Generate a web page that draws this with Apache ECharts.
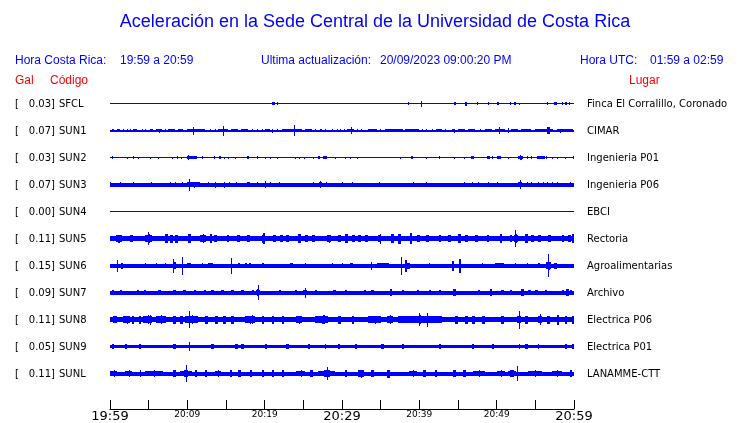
<!DOCTYPE html>
<html>
<head>
<meta charset="utf-8">
<script src="https://cdn.jsdelivr.net/npm/echarts@6/dist/echarts.min.js"></script>
<style>html,body{margin:0;padding:0;background:#fff;}#chart{width:740px;height:423px;}</style>
</head>
<body>
<div id="chart"></div>
<script>
// ---------------- DATA ----------------
const codes = ['SFCL','SUN1','SUN2','SUN3','SUN4','SUN5','SUN6','SUN7','SUN8','SUN9','SUNL'];
const places = ['Finca El Corralillo, Coronado','CIMAR','Ingenieria P01','Ingenieria P06','EBCI','Rectoria','Agroalimentarias','Archivo','Electrica P06','Electrica P01','LANAMME-CTT'];
const galValues = ['0.03','0.07','0.03','0.07','0.00','0.11','0.15','0.09','0.11','0.05','0.11'];
// time axis: minutes after 19:59 (0..60)
const tickLabels = ['19:59','20:09','20:19','20:29','20:39','20:49','20:59'];
const bigTickLabels = ['19:59','20:29','20:59'];
// background (noise) half-amplitude of each trace
const baseAmp = [0.5, 1.0, 0.5, 2.0, 0.5, 2.9, 2.0, 2.0, 2.9, 1.6, 2.0];
// default burst duration (minutes)
const defaultDur = [0.15, 0.15, 0.12, 0.12, 0.15, 0.35, 0.15, 0.3, 0.35, 0.3, 0.3];
// bursts: [minute, half-amplitude, duration(optional)]
const burstsSFCL = [[21.0,1.5,0.3],[21.6,1.2],[38.5,1.2],[40.2,3],[44.5,1.5,0.2],[45.9,2,0.3],[47.5,1.2],[48.9,1.5],[50.0,1.5,0.25],[51.7,1.5,0.2],[52.3,1.2],[52.9,1],[56.5,1.5],[57.4,1.5,0.35],[58.4,1.2],[58.9,1.2],[59.3,1.2]];
const burstsSUN1 = [[0.2,1.6,0.3],[0.86,1.6,0.45],[1.7,1.6],[2.2,1.6],[2.6,1.6],[3.0,1.6,0.45],[4.1,1.6],[4.5,1.6,0.2],[5.2,1.6,0.4],[6.0,1.6,0.7],[6.4,2,0.12],[7.1,1.6],[7.5,1.6,0.9],[8.8,1.6,0.7],[9.9,1.8,2.4],[10.7,4,0.15],[12.9,1.6],[13.6,1.6],[14.0,1.8,1.3],[14.65,5,0.15],[15.7,1.6,0.9],[17.0,1.6,0.9],[18.3,1.6],[19.0,1.6],[19.6,1.6],[20.0,1.6,0.7],[21.0,2,0.12],[21.55,1.6],[22.2,1.8,2.6],[23.8,5.5,0.15],[25.2,1.6,0.9],[26.5,1.6],[27.2,1.6],[27.8,1.6],[28.7,1.6],[29.3,1.6],[29.7,1.6],[30.2,1.6],[30.6,1.6,0.9],[31.2,3.3,0.12],[31.9,1.6],[32.5,1.6],[33.4,1.6,1.1],[34.9,1.6],[35.6,1.6,2.3],[38.1,1.6,1.8],[40.3,1.6],[40.9,1.6],[41.6,1.6],[42.2,1.6,0.7],[43.3,1.6],[44.2,1.6,0.4],[44.5,2,0.12],[45.0,1.6,0.9],[46.3,1.6,0.9],[47.8,1.6],[48.5,1.6,0.85],[49.8,1.8,1.3],[50.3,3.5,0.12],[51.5,2.5,0.1],[51.9,1.6,0.9],[53.2,1.6,1.3],[55.0,1.8,2.3],[56.5,3.5,0.35],[57.8,1.8,2.1],[58.2,2,0.12]];
const burstsSUN2 = [[0.2,1.2],[2.2,1],[3.0,1.2],[3.6,1],[5.2,1],[6.25,1],[8.0,1],[8.6,1.2],[9.2,1],[9.9,1.8,1.4],[10.1,2.7],[11.85,1.2],[13.5,1.2],[14.1,1.2,0.3],[14.8,1],[15.3,1],[16.2,1],[17.7,1.5,0.3],[19.0,1.2],[20.0,1],[20.7,1],[21.55,1],[23.9,1],[24.4,1],[25.1,1],[26.3,1],[26.9,1.5,0.3],[27.5,1.5,0.6],[29.1,1],[30.4,1],[31.0,1],[32.0,1],[37.5,1],[38.9,1.2,0.3],[40.9,1],[42.5,1.2],[44.5,1],[45.8,1],[46.7,1.5,0.4],[48.7,1.5,0.4],[49.4,1.2],[50.0,1.5,0.6],[51.5,1],[52.7,2,0.7],[53.0,2.7],[53.9,1.2],[54.5,1.2],[55.2,1.5,1.0],[56.4,1.2],[57.1,1],[57.8,1],[58.8,1],[59.9,1.2]];
const burstsSUN3 = [[0,2.8],[1.3,2.6],[3.0,2.8],[5.3,2.8],[7.8,2.6],[8.4,2.6],[9.3,2.8],[9.9,3,1.7],[10.26,6],[12.7,2.6],[13.6,3],[14.8,3],[15.4,2.6],[16.25,2.6],[17.7,2.8,0.4],[19.0,2.6],[20.1,3.5],[20.7,2.8],[21.8,2.6],[26.3,2.6],[27.0,2.8,0.4],[27.2,3.5],[27.9,2.8],[30.0,2.6],[31.25,2.6],[34.8,2.6],[39.2,2.6],[40.9,2.6],[45.8,2.6],[46.8,2.6],[47.6,2.6],[48.9,2.6],[50.1,2.6],[52.8,3,0.5],[53.0,4.5],[53.9,2.8],[54.5,2.8],[55.4,2.8],[56.0,2.8],[56.5,2.8],[57.1,2.8],[57.8,2.8],[59.5,2.6]];
const burstsSUN4 = [];
const burstsSUN5 = [[0.2,3.6,1.8],[1.0,4],[2.6,3.6],[4.5,4.2,0.9],[4.95,6.7,0.12],[7.1,4.5],[7.8,4],[8.4,4],[10.1,4.5],[11.6,4.2,0.8],[12.9,4.5],[13.5,3.8],[15.1,3.8],[16.4,3.6],[17.7,3.8],[19.6,4,0.5],[19.8,5.5,0.2],[21.1,3.8],[22.0,3.6],[22.8,3.8],[24.35,4.2],[25.2,3.6],[26.1,3.8],[28.0,4,0.6],[29.5,3.8],[30.4,4.2],[31.3,3.6],[32.1,3.8],[33.0,3.8],[34.4,3.8,0.6],[34.9,5,0.12],[36.4,4.2],[37.3,5,0.3],[38.8,5.5,0.3],[39.7,3.8],[40.9,3.8],[42.5,3.8],[43.75,3.8],[45.0,4.2],[45.9,3.8],[47.2,3.8],[48.7,3.8],[50.4,4.2],[51.6,3.8,0.5],[52.2,4.5,0.6],[52.4,8.5,0.12],[53.7,4.5],[54.5,3.8],[55.4,3.8],[56.7,3.8],[58.4,3.8],[59.2,3.8],[59.7,4.5,0.3]];
const burstsSUN6 = [[0.86,6,0.1],[1.4,3,0.25],[4.5,2.8],[5.9,2.8],[7.1,2.8],[8.1,7,0.12],[8.2,3.5,0.3],[9.35,9,0.1],[9.9,2.8,0.6],[11.85,2.8],[12.7,2.8,0.6],[15.6,8,0.1],[16.6,2.8],[17.4,2.8,0.3],[18.0,2.8,0.2],[19.6,2.8,0.3],[23.3,2.8,0.3],[25.2,2.8],[28.7,2.8],[30.0,2.8],[31.0,2.8,0.4],[33.7,4,0.1],[34.5,2.8,1.6],[37.6,9,0.1],[38.2,6,0.15],[38.4,3,0.4],[41.2,2.8],[44.2,5,0.25],[45.1,7,0.3],[48.1,2.8],[49.8,2.8,1.2],[52.4,2.8],[53.9,2.8],[55.4,2.8],[56.4,4,0.6],[56.6,11.5,0.15],[57.4,3,0.4]];
const burstsSUN7 = [[0.2,2.9],[1.3,2.9],[3.45,2.9],[4.4,2.9],[6.25,2.9],[8.2,2.9],[9.5,2.9],[10.8,2.9],[12.1,2.9],[13.1,2.9],[14.4,2.9],[15.7,2.9],[17.0,2.9],[18.3,2.9],[18.9,3.5,0.5],[19.1,7.5,0.12],[21.8,2.9],[23.9,2.9],[25.0,3.2,0.5],[25.2,5,0.12],[26.5,2.9],[28.9,2.9],[30.4,2.9],[32.8,2.9],[33.8,2.9],[36.2,3.5],[37.7,2.9],[39.7,2.9],[41.2,2.9],[42.5,2.9],[44.4,3.5],[47.6,2.9],[49.1,3.2],[50.6,2.9],[51.7,2.9],[53.2,3.2],[54.1,2.9],[55.0,2.9],[56.25,2.9],[58.4,2.9],[59.0,3.2],[59.5,2.9]];
const burstsSUN8 = [[0,3.8,1.1],[1.7,4,0.9],[2.8,4],[3.7,4],[4.3,4.2,1.1],[5.2,5,0.15],[6.0,4.2,1.3],[8.2,4],[9.05,4],[9.7,4.2,1.7],[10.2,8.7,0.12],[12.3,4],[13.6,4],[14.65,4],[15.7,4],[17.5,4,1.25],[18.3,4.5,0.15],[19.6,4],[20.9,4],[22.2,4],[24.1,4,0.7],[26.5,4,1.7],[27.6,4.5,0.15],[29.5,4],[31.25,4],[33.4,4,1.7],[35.8,4,0.8],[36.2,4.5,0.15],[37.3,4.2,5.6],[40.0,6.5,0.15],[40.95,7,0.15],[44.6,4],[45.9,4],[46.8,4],[48.1,4],[50.6,4],[52.6,4.2,0.6],[52.9,9,0.12],[53.7,4],[55.4,4.2,0.5],[55.6,5.5,0.12],[56.5,4],[57.85,5,0.15],[58.8,4],[59.7,4,0.3]];
const burstsSUN9 = [[0.2,2.3],[1.9,2.3],[3.7,2.3],[8.2,2.3],[10.26,4.3,0.1],[13.1,2.3],[16.2,2.3],[17.0,2.3],[20.0,2.3],[22.8,2.3],[25.6,2.3],[27.8,2.6,0.1],[29.5,2.3],[31.7,2.3],[35.1,2.3],[37.7,2.3],[42.5,2.3],[46.8,2.3],[49.35,2.3],[52.9,2.6,0.1],[53.7,2.3],[55.4,2.4,0.1],[58.8,2.3],[59.7,2.3]];
const burstsSUNL = [[0,3.2,0.9],[1.9,3.2,0.9],[3.9,3.5,0.1],[4.5,3.2,2.4],[8.2,3.2],[9.05,3.5,1.55],[9.8,8.8,0.12],[11.0,3.2],[12.3,3.2],[13.6,3.2,0.8],[15.5,3.2],[16.6,3.2],[18.1,3.2],[19.6,3.2],[20.9,3.2],[22.2,3.2],[24.1,3.2,1.1],[25.9,3.2],[26.9,3.5,2.2],[28.1,6.7,0.12],[30.4,3.2],[32.1,4,0.7],[33.8,3.2],[35.8,4,0.4],[38.6,3.2,1.1],[40.5,3.2],[42.0,3.2],[44.4,3.2],[45.7,3.2],[47.0,3.2,1.5],[50.0,3.3,1.1],[51.5,3.5,1.0],[52.6,7.8,0.12],[54.1,3.2,1.7],[57.1,3.2,1.3],[59.5,3.2]];
const burstLists = [burstsSFCL,burstsSUN1,burstsSUN2,burstsSUN3,burstsSUN4,burstsSUN5,burstsSUN6,burstsSUN7,burstsSUN8,burstsSUN9,burstsSUNL];

// ---------------- STYLE ----------------
const X_MIN = 0, X_MAX = 60;
const AMP_UNIT = 27;           // amplitude units per trace slot
const TRACE_COLOR = '#0000ff';
const HEAD_BLUE = '#0000ff';
const RED = '#ff0000';
const SANS = 'Liberation Sans, Arial, sans-serif';
const DEJAVU = 'DejaVu Sans, sans-serif';

function renderItem(params, api) {
  const i = api.value(1);
  const slot = api.size([0, 1])[1];
  const cy = Math.floor(api.coord([X_MIN, i])[1]) + 0.5;
  const children = [];
  const baseH = baseAmp[i] / AMP_UNIT * slot;
  const rect = (xs, xe, h) => {
    let ya = Math.round(cy - h), yb = Math.round(cy + h);
    if (yb - ya < 1) yb = ya + 1;
    if (xe - xs < 1) xe = xs + 1;
    children.push({type: 'rect', shape: {x: xs, y: ya, width: xe - xs, height: yb - ya}, style: {fill: TRACE_COLOR}});
  };
  const band = (xa, xb, amp) => {
    const h = amp / AMP_UNIT * slot;
    let xs = Math.round(xa), xe = Math.round(xb);
    if (xe - xs < 1) xe = xs + 1;
    const w = xe - xs;
    if (w < 4) { rect(xs, xe, h); return; }
    // burst: a noisy block with its peak near the middle
    rect(xs, xe, Math.max(baseH, h * 0.78));
    const m = Math.round((xs + xe) / 2);
    rect(m - Math.round(w * 0.2), m + Math.round(w * 0.2), h * 0.9);
    rect(m, m + 1, h);
  };
  const x0 = Math.round(api.coord([X_MIN, i])[0]), x1 = Math.round(api.coord([X_MAX, i])[0]);
  rect(x0, x1, baseH);
  burstLists[i].forEach(b => {
    const d = b.length > 2 ? b[2] : defaultDur[i];
    band(api.coord([b[0], i])[0], api.coord([Math.min(b[0] + d, X_MAX), i])[0], b[1]);
  });
  const ty = Math.round(cy);
  const ts = {font: '10px ' + DEJAVU, fill: '#000', verticalAlign: 'middle'};
  children.push({type: 'text', style: Object.assign({text: '[', x: 15, y: ty, align: 'left'}, ts)});
  children.push({type: 'text', style: Object.assign({text: galValues[i] + ']', x: 55, y: ty, align: 'right'}, ts)});
  children.push({type: 'text', style: Object.assign({text: codes[i], x: 59, y: ty, align: 'left'}, ts)});
  children.push({type: 'text', style: Object.assign({text: places[i], x: 587, y: ty, align: 'left'}, ts)});
  return {type: 'group', children};
}

const chart = echarts.init(document.getElementById('chart'), null, {renderer: 'canvas'});
const head = (text, x, y, color, size, align) => ({
  type: 'text', x: x, y: y,
  style: {text: text, font: size + 'px ' + SANS, fill: color, align: align || 'left', verticalAlign: 'middle'}
});
chart.setOption({
  animation: false,
  backgroundColor: '#fff',
  grid: {left: 110, right: 166, top: 89.5, bottom: 14, containLabel: false, outerBoundsMode: 'none'},
  xAxis: {
    type: 'value', min: X_MIN, max: X_MAX, interval: 5, position: 'bottom',
    axisLine: {show: true, onZero: false, lineStyle: {color: '#000', width: 1}},
    axisTick: {show: true, inside: true, length: 9, lineStyle: {color: '#000', width: 1}},
    splitLine: {show: false},
    axisLabel: {
      show: true, margin: 1, showMinLabel: true, showMaxLabel: true, hideOverlap: false,
      formatter: v => {
        if (v % 10 !== 0) return '';
        const lab = tickLabels[v / 10];
        return bigTickLabels.indexOf(lab) >= 0 ? '{big|' + lab + '}' : '{small|' + lab + '}';
      },
      rich: {
        big: {fontSize: 13, fontFamily: DEJAVU, color: '#000'},
        small: {fontSize: 9, fontFamily: DEJAVU, color: '#000'}
      }
    }
  },
  yAxis: {type: 'value', inverse: true, min: -0.5, max: 319.5 / 27 - 0.5, show: false},
  series: [{
    type: 'custom', renderItem: renderItem, clip: false, silent: true,
    encode: {x: 0, y: 1},
    data: codes.map((c, i) => [X_MIN, i])
  }],
  graphic: [
    head('Aceleración en la Sede Central de la Universidad de Costa Rica', 375, 22, HEAD_BLUE, 18, 'center'),
    head('Hora Costa Rica:', 15, 61, HEAD_BLUE, 12),
    head('19:59 a 20:59', 120, 61, HEAD_BLUE, 12),
    head('Ultima actualización:', 261, 61, HEAD_BLUE, 12),
    head('20/09/2023 09:00:20 PM', 380, 61, HEAD_BLUE, 12),
    head('Hora UTC:', 580, 61, HEAD_BLUE, 12),
    head('01:59 a 02:59', 650, 61, HEAD_BLUE, 12),
    head('Gal', 15, 81, RED, 12),
    head('Código', 50, 81, RED, 12),
    head('Lugar', 629, 81, RED, 12)
  ]
});
</script>
</body>
</html>
